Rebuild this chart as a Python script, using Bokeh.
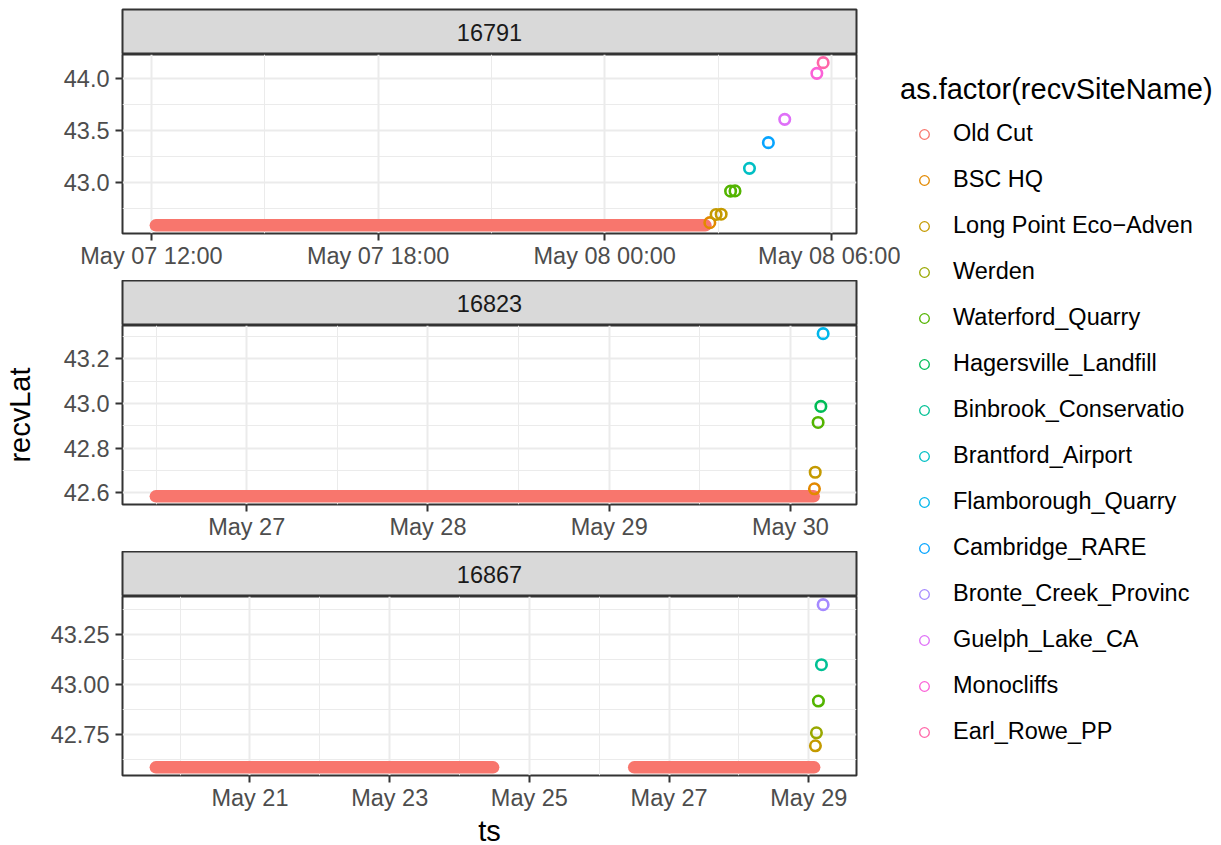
import pandas as pd
from bokeh.plotting import figure
from bokeh.layouts import column, row
from bokeh.models import (ColumnDataSource, Range1d, FixedTicker, PrintfTickFormatter,
                          DatetimeTickFormatter, Legend, LegendItem)
from bokeh.core.properties import value
from bokeh.embed import file_html
from bokeh.resources import INLINE

FONT = "Liberation Sans"

# ---------------- data ----------------
site_levels = ["Old Cut", "BSC HQ", "Long Point Eco\u2212Adven", "Werden", "Waterford_Quarry",
               "Hagersville_Landfill", "Binbrook_Conservatio", "Brantford_Airport",
               "Flamborough_Quarry", "Cambridge_RARE", "Bronte_Creek_Provinc",
               "Guelph_Lake_CA", "Monocliffs", "Earl_Rowe_PP"]
site_colors = ["#F8766D", "#E38900", "#C49A00", "#99A800", "#53B400", "#00BC56", "#00C094",
               "#00BFC4", "#00B6EB", "#06A4FF", "#A58AFF", "#DF70F8", "#FB61D7", "#FF66A8"]

tags = ["16791", "16823", "16867"]

# dense runs of Old Cut detections (drawn as a continuous band)
oldcut_tag = ["16791", "16823", "16867", "16867"]
oldcut_start = ["2016-05-07 12:07", "2016-05-26 11:58", "2016-05-19 15:40", "2016-05-26 12:00"]
oldcut_end = ["2016-05-08 02:40", "2016-05-30 03:05", "2016-05-24 11:32", "2016-05-29 01:50"]
oldcut_lat = [42.584, 42.584, 42.584, 42.584]

# other detections
det_tag = ["16791"] * 10 + ["16823"] * 5 + ["16867"] * 5
det_site = ["BSC HQ", "Long Point Eco\u2212Adven", "Long Point Eco\u2212Adven",
            "Waterford_Quarry", "Waterford_Quarry", "Brantford_Airport", "Cambridge_RARE",
            "Guelph_Lake_CA", "Monocliffs", "Earl_Rowe_PP",
            "BSC HQ", "Long Point Eco\u2212Adven", "Waterford_Quarry", "Hagersville_Landfill",
            "Flamborough_Quarry",
            "Long Point Eco\u2212Adven", "Werden", "Waterford_Quarry", "Binbrook_Conservatio",
            "Bronte_Creek_Provinc"]
det_ts = ["2016-05-08 02:47", "2016-05-08 02:57", "2016-05-08 03:05", "2016-05-08 03:20",
          "2016-05-08 03:27", "2016-05-08 03:50", "2016-05-08 04:20", "2016-05-08 04:46",
          "2016-05-08 05:37", "2016-05-08 05:47",
          "2016-05-30 03:11", "2016-05-30 03:17", "2016-05-30 03:40", "2016-05-30 04:02",
          "2016-05-30 04:20",
          "2016-05-29 02:16", "2016-05-29 02:37", "2016-05-29 03:18", "2016-05-29 04:20",
          "2016-05-29 04:55"]
det_lat = [42.610, 42.689, 42.691, 42.913, 42.915, 43.132, 43.379, 43.603, 44.045, 44.148,
           42.618, 42.692, 42.915, 42.987, 43.313,
           42.692, 42.757, 42.916, 43.098, 43.399]

# axis breaks per facet
x_breaks = {
    "16791": ["2016-05-07 12:00", "2016-05-07 18:00", "2016-05-08 00:00", "2016-05-08 06:00"],
    "16823": ["2016-05-27", "2016-05-28", "2016-05-29", "2016-05-30"],
    "16867": ["2016-05-21", "2016-05-23", "2016-05-25", "2016-05-27", "2016-05-29"],
}
x_label_fmt = {"16791": "%b %d %H:%M", "16823": "%b %d", "16867": "%b %d"}
y_breaks = {
    "16791": [43.0, 43.5, 44.0],
    "16823": [42.6, 42.8, 43.0, 43.2],
    "16867": [42.75, 43.00, 43.25],
}
y_label_fmt = {"16791": "%.1f", "16823": "%.1f", "16867": "%.2f"}

x_title = "ts"
y_title = "recvLat"
legend_title = "as.factor(recvSiteName)"

# ---------------- helpers ----------------
EPOCH = pd.Timestamp("1970-01-01")


def ms(s):
    return (pd.Timestamp(s) - EPOCH) / pd.Timedelta(milliseconds=1)


def minors(majors):
    step = majors[1] - majors[0]
    ext = [majors[0] - step] + list(majors)
    return [m + step / 2 for m in ext]


def expand(lo, hi, f=0.05):
    d = (hi - lo) * f
    return lo - d, hi + d


color_of = dict(zip(site_levels, site_colors))

FRAME_W = 734
FRAME_H = 179
STRIP_H = 45
LEFT = 122
RIGHT = 44
TOP = 9
GAP = 47
GRID = "#EBEBEB"
DARK = "#333333"

children = []
for i, tag in enumerate(tags):
    # ----- strip -----
    s = figure(frame_width=FRAME_W, frame_height=STRIP_H, min_border_left=LEFT,
               min_border_right=RIGHT, min_border_top=TOP if i == 0 else 0,
               min_border_bottom=0,
               x_range=Range1d(0, 1), y_range=Range1d(0, 1), x_axis_type=None,
               y_axis_type=None, toolbar_location=None, output_backend="svg",
               background_fill_color="#D9D9D9", outline_line_color=DARK,
               outline_line_width=2)
    s.grid.visible = False
    s.text(x=[0.5], y=[0.5], text=[tag], text_align="center", text_baseline="middle",
           text_font=value(FONT), text_font_size="23.5px", text_color="#1A1A1A")
    children.append(s)

    # ----- data for this facet -----
    oc = [k for k, t in enumerate(oldcut_tag) if t == tag]
    dk = [k for k, t in enumerate(det_tag) if t == tag]
    oc_src = ColumnDataSource(dict(
        start=[ms(oldcut_start[k]) for k in oc],
        end=[ms(oldcut_end[k]) for k in oc],
        lat=[oldcut_lat[k] for k in oc]))
    d_src = ColumnDataSource(dict(
        ts=[ms(det_ts[k]) for k in dk],
        lat=[det_lat[k] for k in dk],
        color=[color_of[det_site[k]] for k in dk]))

    xs = oc_src.data["start"] + oc_src.data["end"] + d_src.data["ts"]
    ys = oc_src.data["lat"] + d_src.data["lat"]
    x0, x1 = expand(min(xs), max(xs))
    y0, y1 = expand(min(ys), max(ys))

    last = i == len(tags) - 1
    p = figure(frame_width=FRAME_W, frame_height=FRAME_H, min_border_left=LEFT,
               min_border_right=RIGHT, min_border_top=0,
               min_border_bottom=60 if last else GAP,
               x_axis_type="datetime", x_range=Range1d(x0, x1), y_range=Range1d(y0, y1),
               toolbar_location=None, output_backend="svg",
               background_fill_color="white", outline_line_color=DARK,
               outline_line_width=2)

    xmaj = [ms(v) for v in x_breaks[tag]]
    ymaj = y_breaks[tag]
    xt = FixedTicker(ticks=xmaj, minor_ticks=minors(xmaj))
    yt = FixedTicker(ticks=ymaj, minor_ticks=minors(ymaj))
    p.xaxis.ticker = xt
    p.yaxis.ticker = yt
    p.xgrid.ticker = xt
    p.ygrid.ticker = yt
    fmt = x_label_fmt[tag]
    p.xaxis.formatter = DatetimeTickFormatter(
        microseconds=fmt, milliseconds=fmt, seconds=fmt, minsec=fmt, minutes=fmt,
        hourmin=fmt, hours=fmt, days=fmt, months=fmt, years=fmt)
    p.yaxis.formatter = PrintfTickFormatter(format=y_label_fmt[tag])

    for ax in (p.xaxis[0], p.yaxis[0]):
        ax.axis_line_color = None
        ax.major_tick_line_color = DARK
        ax.major_tick_line_width = 2
        ax.major_tick_out = 7
        ax.major_tick_in = 0
        ax.minor_tick_line_color = None
        ax.major_label_text_font = FONT
        ax.major_label_text_font_size = "23.5px"
        ax.major_label_text_color = "#4D4D4D"
    p.xaxis.major_label_standoff = 2
    p.yaxis.major_label_standoff = 6

    for g in (p.xgrid[0], p.ygrid[0]):
        g.grid_line_color = GRID
        g.grid_line_width = 2
        g.minor_grid_line_color = GRID
        g.minor_grid_line_width = 1

    if i == 1:
        p.yaxis.axis_label = y_title
        p.yaxis.axis_label_text_font = FONT
        p.yaxis.axis_label_text_font_size = "29px"
        p.yaxis.axis_label_text_font_style = "normal"
        p.yaxis.axis_label_text_color = "black"
        p.yaxis.axis_label_standoff = 25

    if last:
        p.xaxis.axis_label = x_title
        p.xaxis.axis_label_text_font = FONT
        p.xaxis.axis_label_text_font_size = "29px"
        p.xaxis.axis_label_text_font_style = "normal"
        p.xaxis.axis_label_text_color = "black"
        p.xaxis.axis_label_standoff = 1

    p.segment(x0="start", y0="lat", x1="end", y1="lat", source=oc_src,
              line_color=color_of["Old Cut"], line_width=12.5, line_cap="round")
    p.scatter(x="ts", y="lat", source=d_src, marker="circle", size=10.5,
              fill_color=None, line_color="color", line_width=2.6)
    children.append(p)

panel_col = column(*children, spacing=0)

# ---------------- legend ----------------
TOTAL_H = TOP + STRIP_H * 3 + FRAME_H * 3 + GAP * 2 + 60
lg = figure(width=315, height=TOTAL_H, x_range=Range1d(0, 1), y_range=Range1d(0, 1),
            x_axis_type=None, y_axis_type=None, toolbar_location=None,
            output_backend="svg", min_border_left=0, min_border_top=73,
            min_border_right=0, min_border_bottom=0, outline_line_color=None)
lg.grid.visible = False
items = []
nan = float("nan")
for name, col in zip(site_levels, site_colors):
    r = lg.scatter(x=[nan], y=[nan], marker="circle", size=10, fill_color=None,
                   line_color=col, line_width=1.3)
    items.append(LegendItem(label=name, renderers=[r]))
legend = Legend(items=items, location="top_left", title=legend_title,
                padding=0, margin=0, border_line_color=None, background_fill_alpha=0,
                label_text_font=FONT, label_text_font_size="23.5px",
                label_text_color="black", title_text_font=FONT,
                title_text_font_size="29px", title_text_font_style="normal",
                title_text_color="black", title_standoff=14, glyph_width=48,
                glyph_height=24, label_height=27, label_standoff=5, spacing=19)
lg.add_layout(legend)

layout = row(panel_col, lg, spacing=0)

open("out.html", "w").write(file_html(layout, INLINE))
